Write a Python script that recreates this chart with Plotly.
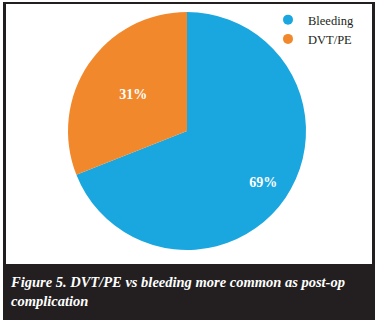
import plotly.graph_objects as go

labels = ["Bleeding", "DVT/PE"]
values = [69, 31]
colors = ["#1aa7e0", "#f1882b"]
caption = "<b><i>Figure 5. DVT/PE vs bleeding more common as post-op<br>complication</i></b>"

W, H = 375, 320
def px(x): return x / W
def py(y): return 1 - y / H

dom = dict(x=[px(68), px(306)], y=[py(250), py(12)])
tf = dict(family="Liberation Serif", size=14, color="white")

fig = go.Figure()
# main pie (draws slices; label of the small slice)
fig.add_trace(go.Pie(
    labels=labels, values=values, sort=False, direction="clockwise", rotation=0,
    marker=dict(colors=colors, line=dict(width=0)),
    texttemplate=["", "<b>%{percent:.0%}</b>"], textposition="inside",
    insidetextorientation="horizontal", textfont=tf,
    domain=dom, showlegend=False, hoverinfo="label+percent",
))
# overlay ring (transparent) to place the large slice's label further out
fig.add_trace(go.Pie(
    labels=labels, values=values, sort=False, direction="clockwise", rotation=0, hole=0.55,
    marker=dict(colors=["rgba(0,0,0,0)"] * len(values), line=dict(width=0)),
    texttemplate=["<b>%{percent:.0%}</b>", ""], textposition="inside",
    insidetextorientation="horizontal", textfont=tf,
    domain=dom, showlegend=False, hoverinfo="skip",
))
for lab, col in zip(labels, colors):
    fig.add_trace(go.Scatter(x=[None], y=[None], mode="markers", name=lab,
                             marker=dict(color=col, size=10, symbol="circle")))

dark = "#231f20"
shapes = [
    dict(type="rect", xref="paper", yref="paper", x0=px(3), x1=px(6), y0=py(264), y1=py(2),
         fillcolor=dark, line=dict(width=0), layer="above"),
    dict(type="rect", xref="paper", yref="paper", x0=px(3), x1=px(375), y0=py(4), y1=py(2),
         fillcolor=dark, line=dict(width=0), layer="above"),
    dict(type="rect", xref="paper", yref="paper", x0=px(372), x1=px(375), y0=py(264), y1=py(2),
         fillcolor=dark, line=dict(width=0), layer="above"),
    dict(type="rect", xref="paper", yref="paper", x0=px(3), x1=px(375), y0=0, y1=py(264),
         fillcolor=dark, line=dict(width=0), layer="above"),
]

fig.update_layout(
    width=W, height=H, margin=dict(l=0, r=0, t=0, b=0),
    paper_bgcolor="white", plot_bgcolor="white",
    xaxis=dict(visible=False), yaxis=dict(visible=False),
    shapes=shapes,
    legend=dict(x=px(268), y=py(5), xanchor="left", yanchor="top", tracegroupgap=0,
                font=dict(family="Liberation Serif", size=12.5, color=dark),
                bgcolor="rgba(0,0,0,0)", itemclick=False),
    annotations=[dict(text=caption, xref="paper", yref="paper", x=px(8), y=py(272),
                      xanchor="left", yanchor="top", align="left", showarrow=False,
                      font=dict(family="Liberation Serif", size=14.5, color="white"))],
)
fig.write_html("out.html", config={"displayModeBar": False},
               post_script="document.body.style.margin='0';document.body.style.overflow='hidden';")
